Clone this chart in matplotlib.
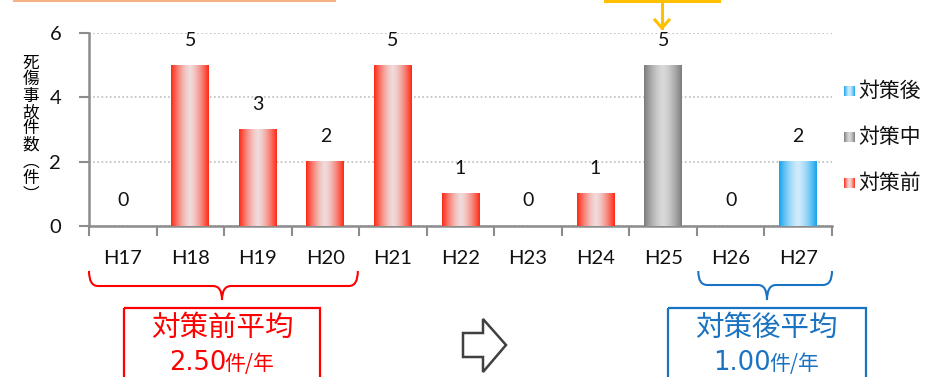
import numpy as np
import matplotlib
matplotlib.use("Agg")
import matplotlib.pyplot as plt
from matplotlib.path import Path
from matplotlib.patches import PathPatch, Rectangle, Polygon
from matplotlib.transforms import Affine2D
from matplotlib.colors import to_rgb

plt.rcParams['font.family'] = ['Lato', 'Noto Sans CJK JP', 'DejaVu Sans']

# ---- data ----
years = ['H17', 'H18', 'H19', 'H20', 'H21', 'H22', 'H23', 'H24', 'H25', 'H26', 'H27']
counts = [0, 5, 3, 2, 5, 1, 0, 1, 5, 0, 2]
phases = ['対策前'] * 8 + ['対策中'] + ['対策後'] * 2
legend_order = ['対策後', '対策中', '対策前']
ylabel_chars = ['死', '傷', '事', '故', '件', '数', '︵', '件', '︶']
before_years = ['H17', 'H18', 'H19', 'H20']
after_years = ['H26', 'H27']
before_title = '対策前平均'
after_title = '対策後平均'
rate_unit = '件/年'

# edge / centre colours of the bar shading
shade = {
    '対策前': ('#ff2a14', '#f0dada'),
    '対策中': ('#7d7d7d', '#d9d9d9'),
    '対策後': ('#17a5ec', '#cfebfc'),
}

W, H = 938, 377
fig = plt.figure(figsize=(W / 100, H / 100), dpi=100)
ax = fig.add_axes([89 / W, 1 - 226 / H, (832 - 89) / W, (226 - 33) / H])

x = np.arange(len(years))
bars = ax.bar(x, counts, width=0.56, color='none', edgecolor='none', zorder=3)


def gradient(phase, n=64):
    edge, centre = np.array(to_rgb(shade[phase][0])), np.array(to_rgb(shade[phase][1]))
    t = np.abs(np.linspace(-1, 1, n))
    t = t ** 1.5
    img = centre[None, :] * (1 - t[:, None]) + edge[None, :] * t[:, None]
    return img[None, :, :]


for b, ph in zip(bars, phases):
    if b.get_height() <= 0:
        continue
    ax.imshow(gradient(ph), extent=[b.get_x(), b.get_x() + b.get_width(), 0, b.get_height()],
              aspect='auto', zorder=3, interpolation='bilinear')

for xi, v in zip(x, counts):
    ax.annotate(str(v), (xi, v), xytext=(0, 18), textcoords='offset points',
                ha='center', va='center', fontsize=14, color='#111111', zorder=4)

ax.set_xlim(-0.5, len(years) - 0.5)
ax.set_ylim(0, 6)
ax.set_yticks([0, 2, 4, 6])
ax.set_xticks(x)
ax.set_xticklabels(years, fontsize=14.5)
ax.set_xticks(np.arange(-0.5, len(years)), minor=True)
ax.tick_params(axis='x', which='major', length=0, pad=17, colors='#111111')
ax.tick_params(axis='x', which='minor', length=7, width=1.5, color='#8c8c8c', direction='out')
ax.tick_params(axis='y', length=7, width=1.5, color='#8c8c8c', labelsize=14.5, pad=13,
               labelcolor='#111111')
for s in ['top', 'right']:
    ax.spines[s].set_visible(False)
for s in ['left', 'bottom']:
    ax.spines[s].set_color('#8c8c8c')
    ax.spines[s].set_linewidth(1.8)
ax.yaxis.grid(True, linestyle=(0, (1, 1.5)), color='#bdbdbd', linewidth=1.2, zorder=0)
ax.set_axisbelow(True)

cjk = ['Noto Sans CJK JP']

# vertical y-axis title
for i, ch in enumerate(ylabel_chars):
    fig.text(31 / W, 1 - (63 + i * 16.5) / H, ch, ha='center', va='center',
             fontsize=12, family=cjk, color='#000000')

# legend
for i, lab in enumerate(legend_order):
    yc = 91 + i * 46
    lax = fig.add_axes([844 / W, 1 - (yc + 5) / H, 11 / W, 10 / H])
    lax.imshow(gradient(lab), aspect='auto', interpolation='bilinear')
    lax.axis('off')
    fig.text(858 / W, 1 - yc / H, lab, ha='left', va='center', fontsize=15,
             family=cjk, color='#111111')

# pixel-space overlay (origin top-left)
px = Affine2D().scale(1, -1).translate(0, H)
renderer = fig.canvas.get_renderer()


def brace(x0, x1, xm, ytop, ymid, ytip, color):
    r = 9
    verts = [(x0, ytop), (x0, ymid), (x0 + r, ymid), (xm - r, ymid), (xm, ymid), (xm, ytip),
             (xm, ymid), (xm + r, ymid), (x1 - r, ymid), (x1, ymid), (x1, ytop)]
    codes = [Path.MOVETO, Path.CURVE3, Path.CURVE3, Path.LINETO, Path.CURVE3, Path.CURVE3,
             Path.CURVE3, Path.CURVE3, Path.LINETO, Path.CURVE3, Path.CURVE3]
    fig.add_artist(PathPatch(Path(verts, codes), transform=px, fill=False, edgecolor=color,
                             linewidth=1.5))


def to_px(xdata):
    return ax.transData.transform((xdata, 0))[0]


def rate_text(cx, cy, value, color):
    """Average value in large digits followed by a smaller unit, centred on cx."""
    gap = -2
    t1 = fig.text(0, 1 - cy / H, f'{value:.2f}', ha='left', va='center', fontsize=18.5,
                  family=['DejaVu Sans'], color=color)
    t2 = fig.text(0, 1 - (cy + 1) / H, rate_unit, ha='left', va='center', fontsize=15,
                  family=cjk, color=color)
    w1 = t1.get_window_extent(renderer).width
    w2 = t2.get_window_extent(renderer).width
    start = cx - (w1 + w2 + gap) / 2
    t1.set_x(start / W)
    t2.set_x((start + w1 + gap) / W)


red = '#ff0000'
blue = '#1a73c2'
i0, i1 = years.index(before_years[0]), years.index(before_years[-1])
j0, j1 = years.index(after_years[0]), years.index(after_years[-1])
brace(to_px(i0 - 0.5), to_px(i1 + 0.48), 222, 271, 286, 300, red)
brace(to_px(j0 - 0.48), to_px(j1 + 0.5), 767, 271, 285, 300, blue)

avg_before = np.mean([counts[years.index(y)] for y in before_years])
avg_after = np.mean([counts[years.index(y)] for y in after_years])

fig.add_artist(Rectangle((124, 308), 196, 100, transform=px, fill=False, edgecolor=red,
                         linewidth=1.6))
fig.add_artist(Rectangle((668, 308), 198, 100, transform=px, fill=False, edgecolor=blue,
                         linewidth=1.6))

for cx, title, val, col in [(222, before_title, avg_before, red),
                            (766, after_title, avg_after, blue)]:
    fig.text(cx / W, 1 - 328 / H, title, ha='center', va='center', fontsize=20.5,
             family=cjk, color=col)
    rate_text(cx, 363, val, col)

# hollow arrow between the two summaries
arrow = [(463, 333), (483, 333), (483, 319), (506, 345), (483, 372), (483, 357), (463, 357)]
fig.add_artist(Polygon(arrow, closed=True, transform=px, fill=False, edgecolor='#404040',
                       linewidth=1.8))

# callout edges along the top
fig.add_artist(plt.Line2D([14, 335], [0.5, 0.5], transform=px, color='#f4b183', linewidth=1.5))
fig.add_artist(plt.Line2D([605, 719], [0.8, 0.8], transform=px, color='#ffc000', linewidth=2.2))
fig.add_artist(plt.Line2D([662, 662], [0, 28], transform=px, color='#ffc000', linewidth=2.2))
fig.add_artist(plt.Line2D([655, 662, 669], [20, 28, 20], transform=px, color='#ffc000',
                          linewidth=2.2))

fig.savefig('out.png', dpi=100)
